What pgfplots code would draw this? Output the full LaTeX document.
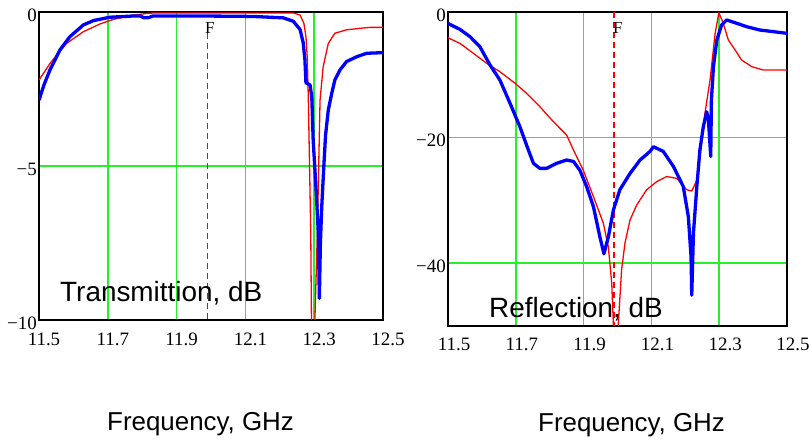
\documentclass[border=0pt]{standalone}
\usepackage{pgfplots}
\pgfplotsset{compat=1.18}
\usepackage{fontspec}
\setmainfont{Liberation Serif}
\newfontfamily\comic{Liberation Sans}
\definecolor{gridgreen}{RGB}{40,240,40}
\definecolor{bblue}{RGB}{0,0,255}
\definecolor{rred}{RGB}{255,0,0}
\pgfplotsset{
  myax/.style={
    scale only axis, anchor=south west,
    xmin=11.5, xmax=12.5,
    xtick={11.5,11.7,11.9,12.1,12.3,12.5},
    xticklabels={11.5,11.7,11.9,12.1,12.3,12.5},
    xmajorgrids=true, ymajorgrids=true,
    major grid style={draw=gridgreen, line width=1.5bp},
    major tick length=0pt, tick style={draw=none},
    axis line style={draw=black, line width=1.2bp},
    tick label style={font=\fontsize{19}{19}\selectfont, inner sep=0pt},
    yticklabel style={anchor=east, xshift=-2bp, yshift=-3bp},
  }
}
\begin{document}
\begin{tikzpicture}
\path[use as bounding box] (0,0) rectangle (812bp,441bp);
% ---------------- Transmission ----------------
\begin{axis}[myax, at={(39bp,121bp)}, width=344bp, height=308bp,
  ymin=-10, ymax=0, ytick={-10,-5,0}, yticklabels={−10,−5,0},
  xticklabel style={anchor=north, xshift=5bp, yshift=-13bp}]
\addplot[draw=rred, dash pattern=on 6bp off 4bp, line width=1.3bp] coordinates {(11.99,-0.68) (11.99,-10)};
\addplot[draw=rred, line width=1.3bp, line join=round] coordinates {
(11.5,-2.21) (11.532,-1.67) (11.58,-1.02) (11.629,-0.64) (11.677,-0.39) (11.716,-0.24)
(11.774,-0.10) (11.82,-0.04) (11.84,-0.03) (12.239,-0.03) (12.259,-0.1) (12.27,-0.37)
(12.276,-0.8) (12.28,-1.5) (12.283,-2.86) (12.29,-7.18) (12.292,-10) (12.297,-14)
(12.302,-10) (12.309,-7.2) (12.317,-2.86) (12.326,-1.78) (12.341,-1.02) (12.36,-0.69)
(12.394,-0.58) (12.433,-0.53) (12.462,-0.50) (12.5,-0.5)};
\addplot[draw=bblue, line width=3.3bp, line join=round] coordinates {
(11.5,-2.86) (11.515,-2.35) (11.532,-1.88) (11.561,-1.23) (11.590,-0.80) (11.629,-0.42)
(11.658,-0.28) (11.706,-0.17) (11.774,-0.13) (11.795,-0.13) (11.805,-0.19) (11.82,-0.18)
(11.83,-0.13) (11.968,-0.13) (12.093,-0.14) (12.133,-0.15) (12.21,-0.19) (12.239,-0.30)
(12.259,-0.57) (12.268,-1.00) (12.273,-1.55) (12.276,-2.3) (12.288,-2.37) (12.293,-2.76)
(12.297,-4.16) (12.305,-5.67) (12.312,-7.18) (12.315,-9.30) (12.318,-7.5) (12.322,-6.3)
(12.328,-5.0) (12.333,-4.0) (12.341,-3.18) (12.351,-2.64) (12.36,-2.21) (12.375,-1.88)
(12.394,-1.61) (12.424,-1.45) (12.453,-1.34) (12.5,-1.32)};
\end{axis}
% ---------------- Reflection ----------------
\begin{axis}[myax, at={(448bp,115bp)}, width=339bp, height=314bp,
  ymin=-50, ymax=0, ytick={-40,-20,0}, yticklabels={−40,−20,0},
  xticklabel style={anchor=north, xshift=6bp, yshift=-12bp}]
\addplot[draw=rred, dash pattern=on 6bp off 4bp, line width=1.3bp] coordinates {(11.99,0) (11.99,-50)};
\addplot[draw=rred, line width=1.3bp, line join=round] coordinates {
(11.5,-4.1) (11.535,-4.99) (11.575,-6.58) (11.614,-8.17) (11.653,-9.5) (11.698,-11.36)
(11.732,-12.95) (11.771,-15.08) (11.811,-17.47) (11.85,-19.6) (11.87,-21.97) (11.899,-25.2)
(11.929,-29.4) (11.958,-33.6) (11.973,-37.4) (11.983,-43.2) (11.988,-50) (11.995,-60)
(12.002,-50) (12.012,-41.1) (12.022,-36.8) (12.037,-33.1) (12.057,-30.7) (12.086,-28.3)
(12.116,-27.0) (12.145,-26.2) (12.175,-26.5) (12.204,-28.3) (12.219,-28.5) (12.234,-26.8)
(12.243,-23.0) (12.258,-16.1) (12.273,-10.8) (12.288,-3.4) (12.299,-0.1) (12.312,-1.8)
(12.327,-4.46) (12.347,-6.05) (12.366,-7.64) (12.396,-8.7) (12.43,-9.24) (12.5,-9.24)};
\addplot[draw=bblue, line width=3.3bp, line join=round] coordinates {
(11.5,-1.8) (11.503,-1.91) (11.535,-2.76) (11.565,-3.93) (11.594,-5.52) (11.624,-8.44)
(11.653,-10.83) (11.683,-14.54) (11.712,-18.26) (11.737,-21.97) (11.752,-24.1) (11.771,-24.9)
(11.791,-24.9) (11.82,-24.1) (11.85,-23.57) (11.87,-23.8) (11.889,-25.2) (11.909,-27.8)
(11.929,-31.0) (11.948,-35.8) (11.96,-38.5) (11.973,-35.8) (11.988,-31.5) (12.007,-28.3)
(12.037,-25.7) (12.066,-23.6) (12.096,-22.2) (12.106,-21.45) (12.135,-22.2) (12.165,-24.6)
(12.194,-27.8) (12.209,-32.6) (12.217,-39.0) (12.219,-45.1) (12.224,-35.2) (12.234,-27.8)
(12.243,-22.0) (12.253,-18.3) (12.263,-15.9) (12.268,-17) (12.275,-23.0) (12.277,-14)
(12.283,-8.7) (12.293,-4.46) (12.307,-2.07) (12.322,-1.27) (12.352,-1.8) (12.381,-2.34)
(12.42,-2.87) (12.46,-3.13) (12.5,-3.4)};
\end{axis}
% ---------------- texts ----------------
\node[anchor=north west, inner sep=0pt, font=\fontsize{17}{17}\selectfont] at (205bp,419bp) {F};
\node[anchor=north west, inner sep=0pt, font=\fontsize{17}{17}\selectfont] at (613bp,419bp) {F};
\node[anchor=base west, inner sep=0pt, font=\comic\fontsize{28}{28}\selectfont] at (60bp,139bp) {Transmittion, dB};
\node[anchor=base west, inner sep=0pt, font=\comic\fontsize{28}{28}\selectfont] at (489bp,123bp) {Reflection, dB};
\node[anchor=base west, inner sep=0pt, font=\comic\fontsize{26}{26}\selectfont] at (107bp,11bp) {Frequency, GHz};
\node[anchor=base west, inner sep=0pt, font=\comic\fontsize{26}{26}\selectfont] at (538bp,10bp) {Frequency, GHz};
\end{tikzpicture}
\end{document}
